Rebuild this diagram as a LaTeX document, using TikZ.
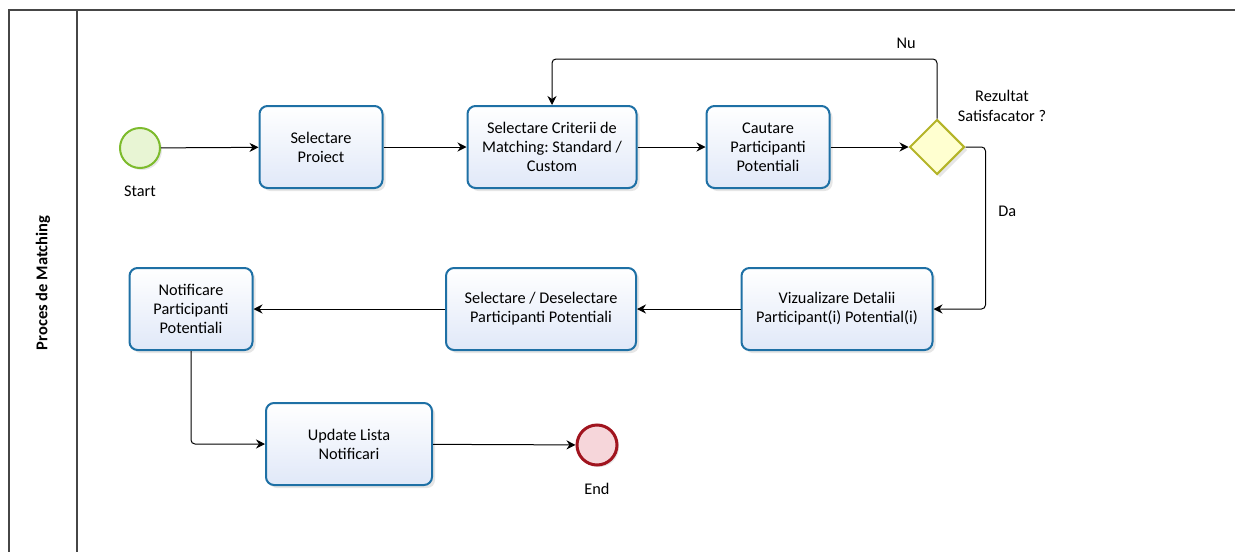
\documentclass[tikz,border=0pt]{standalone}
\usepackage{fontspec}
\setmainfont{Carlito}
\frenchspacing
\usetikzlibrary{shapes.geometric,arrows.meta,shadows}
\definecolor{taskblue}{RGB}{30,112,165}
\definecolor{taskfill}{RGB}{224,232,248}
\definecolor{startgreen}{RGB}{125,187,45}
\definecolor{startfill}{RGB}{232,245,212}
\definecolor{endred}{RGB}{160,20,30}
\definecolor{endfill}{RGB}{246,214,218}
\definecolor{gateolive}{RGB}{180,180,40}
\definecolor{gatefill}{RGB}{255,255,208}
\definecolor{poolgray}{RGB}{70,70,70}

\tikzset{
  task/.style={draw=taskblue, line width=2pt, rounded corners=8pt,
    top color=white, bottom color=taskfill, minimum height=82pt,
    align=center, font=\fontsize{16.3}{19}\selectfont,
    drop shadow={opacity=0.2, shadow xshift=3pt, shadow yshift=-3pt}},
  event/.style={circle, minimum size=40pt, inner sep=0pt,
    drop shadow={opacity=0.2, shadow xshift=2pt, shadow yshift=-2pt}},
  gate/.style={diamond, aspect=1, minimum width=55pt, minimum height=55pt,
    inner sep=0pt, draw=gateolive, fill=gatefill, line width=2pt,
    drop shadow={opacity=0.2, shadow xshift=3pt, shadow yshift=-3pt}},
  flow/.style={line width=1pt, rounded corners=4pt, -{Stealth[length=9pt,width=9pt]}},
  txt/.style={font=\fontsize{16.3}{20}\selectfont, align=center},
}

\begin{document}
\begin{tikzpicture}[x=1pt,y=-1pt]
  \useasboundingbox (0,0) rectangle (1235,552);
  % pool and lane
  \draw[poolgray, line width=1.2pt] (1235,10) -- (9,10) -- (9,552);
  \draw[poolgray, line width=1.2pt] (77,10) -- (77,552);
  \node (lane) [rotate=90, font=\fontsize{16.5}{19}\selectfont\bfseries] at (43,283) {Proces de Matching};

  % first row
  \node (start) [event, draw=startgreen, fill=startfill, line width=2pt,
    label={[txt, label distance=13pt]below:Start}] at (140,148) {};
  \node (proiect) [task, minimum width=123pt] at (321,147) {Selectare\\Proiect};
  \node (criterii) [task, minimum width=169pt] at (552,147) {Selectare Criterii de\\Matching: Standard /\\Custom};
  \node (cautare) [task, minimum width=123pt] at (768,147) {Cautare\\Participanti\\Potentiali};
  \node (decizie) [gate] at (937,147) {};
  \node (intrebare) [txt] at (1002,106) {Rezultat\\Satisfacator ?};

  % second row
  \node (vizualizare) [task, minimum width=191pt] at (837,309) {Vizualizare Detalii\\Participant(i) Potential(i)};
  \node (selectie) [task, minimum width=190pt] at (541,309) {Selectare / Deselectare\\Participanti Potentiali};
  \node (notificare) [task, minimum width=123pt] at (191,309) {Notificare\\Participanti\\Potentiali};

  % third row
  \node (update) [task, minimum width=166pt] at (349,444) {Update Lista\\Notificari};
  \node (stop) [event, draw=endred, fill=endfill, line width=3pt,
    label={[txt, label distance=13pt]below:End}] at (597,445) {};

  \draw[flow] (start) -- (proiect);
  \draw[flow] (proiect) -- (criterii);
  \draw[flow] (criterii) -- (cautare);
  \draw[flow] (cautare) -- (decizie);
  \draw[flow] (decizie.north) -- (decizie.north |- 0,59) -| node[txt, pos=0.04, above=7pt] {Nu} (criterii.north);
  \draw[flow] (decizie.east) -- ++(20,0) |- node[txt, pos=0.2, right=9pt] {Da} (vizualizare.east);
  \draw[flow] (vizualizare) -- (selectie);
  \draw[flow] (selectie) -- (notificare);
  \draw[flow] (notificare.south) |- (update.west);
  \draw[flow] (update) -- (stop);
\end{tikzpicture}
\end{document}
